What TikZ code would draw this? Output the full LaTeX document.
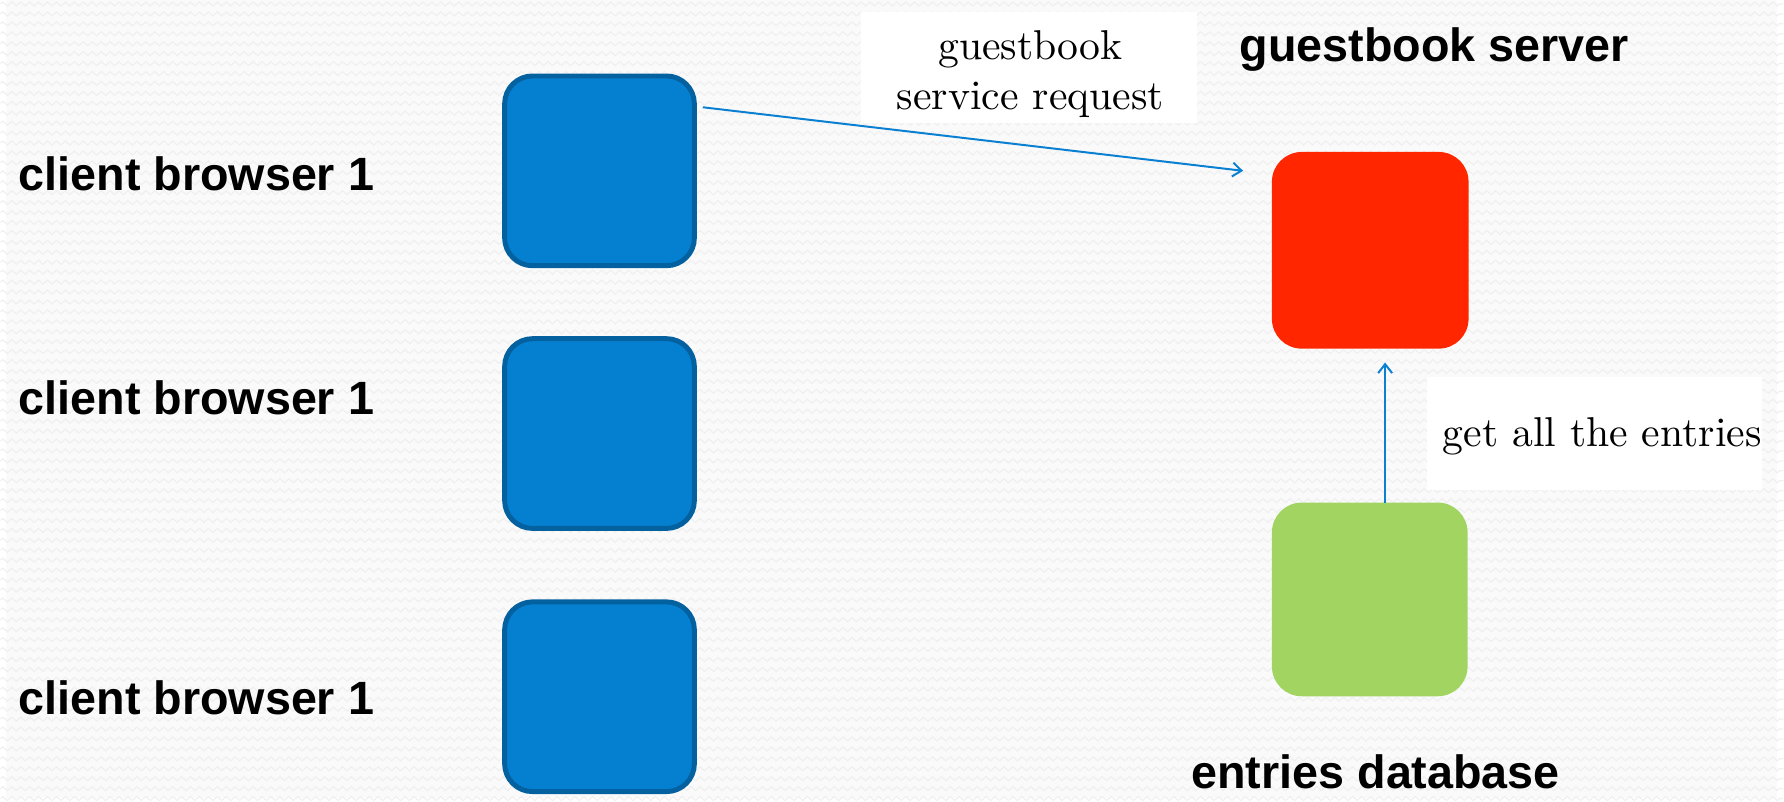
\documentclass[tikz,border=0pt]{standalone}
\usepackage{fontspec}
\newfontfamily\labelsans{Liberation Sans}
\newfontfamily\notefont{lmroman10-regular.otf}
\usetikzlibrary{arrows.meta,decorations.pathmorphing}

\definecolor{paper}{HTML}{FAFAFA}
\definecolor{paperzig}{HTML}{F0F0F0}
\definecolor{clientfill}{HTML}{0580D0}
\definecolor{clientedge}{HTML}{0461A0}
\definecolor{serverred}{HTML}{FF2600}
\definecolor{dbgreen}{HTML}{A2D462}
\definecolor{flowblue}{HTML}{0A80D2}

\tikzset{
  zigline/.style={draw=paperzig, line width=1.2pt, decorate,
    decoration={zigzag, segment length=9pt, amplitude=2pt}},
  client/.style={draw=clientedge, line width=5pt, fill=clientfill,
    rounded corners=28pt, minimum width=191pt, minimum height=191pt,
    inner sep=0pt},
  server/.style={fill=serverred, rounded corners=30pt,
    minimum width=198pt, minimum height=198pt, inner sep=0pt},
  store/.style={fill=dbgreen, rounded corners=30pt,
    minimum width=197pt, minimum height=195pt, inner sep=0pt},
  role/.style={font=\labelsans\bfseries\fontsize{47}{56}\selectfont,
    inner sep=0pt, text=black},
  note/.style={fill=white, inner sep=0pt,
    font=\notefont\fontsize{42}{50}\selectfont},
  flow/.style={draw=flowblue, line width=2pt,
    -{Straight Barb[length=9pt, width=14pt, line width=2pt]}},
}

\begin{document}
\begin{tikzpicture}[x=1pt, y=-1pt]
  % page and its faint zigzag texture
  \fill[paper] (0,0) rectangle (1784,803);
  \foreach \r in {4,14,...,804}
    \draw[zigline] (-5,\r) -- (1790,\r);
  \useasboundingbox (0,0) rectangle (1784,803);

  % clients
  \node[client] (c1) at (598,172) {};
  \node[client] (c2) at (598,436.5) {};
  \node[client] (c3) at (598,701.5) {};

  \node[role, anchor=base west] (l1) at (13,192) {client browser 1};
  \node[role, anchor=base west] (l2) at (13,417) {client browser 1};
  \node[role, anchor=base west] (l3) at (13,719) {client browser 1};

  % server and database
  \node[server] (srv) at (1374,252) {};
  \node[store] (db) at (1373.5,603.5) {};

  \node[role, anchor=base] (srvlabel) at (1438.5,62) {guestbook server};
  \node[role, anchor=base] (dblabel) at (1379.5,794) {entries database};

  % request from client 1 to the server
  \coordinate (reqfrom) at (702,108);
  \coordinate (reqto) at (1246,172);
  \draw[flow] (reqfrom) -- (reqto);
  \node[note, minimum width=339pt, minimum height=112pt,
        text height=30pt, text depth=46pt] (reqnote) at (1030.5,68)
    {\hspace*{3pt}\begin{tabular}[t]{@{}c@{}}guestbook\\service request\end{tabular}};

  % query from the database to the server
  \coordinate (qfrom) at (1389,506);
  \coordinate (qto) at (1389,365);
  \draw[flow] (qfrom) -- (qto);
  \node[note, minimum width=331pt, minimum height=113pt,
        text height=30pt, text depth=3pt] (qnote) at (1599.5,436.5)
    {\hspace*{16pt}get all the entries};
\end{tikzpicture}
\end{document}
